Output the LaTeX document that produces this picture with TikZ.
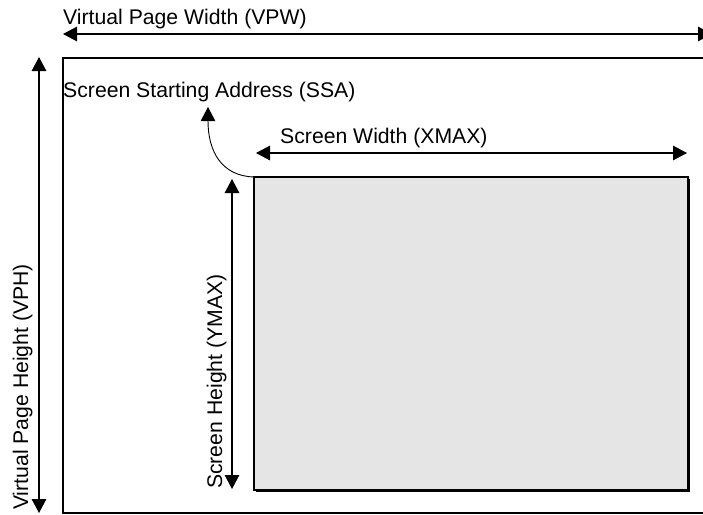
\documentclass[tikz,border=0pt]{standalone}
\usepackage{fontspec}
\setmainfont{Liberation Sans}
\usetikzlibrary{arrows.meta}
\begin{document}
\begin{tikzpicture}[x=1pt,y=-1pt,
  lbl/.style={inner sep=0pt,anchor=base west,font=\fontsize{21.2}{25}\selectfont},
  dim/.style={line width=1.4pt,{Triangle[length=14pt,width=14.5pt]}-{Triangle[length=14pt,width=14.5pt]}},
  frame/.style={line width=1.5pt},
  screen/.style={line width=1.5pt,fill={rgb,255:red,229;green,229;blue,229}}]
\clip (0,0) rectangle (703,514);
\fill[white] (0,0) rectangle (703,514);
% coordinates
\coordinate (vpwL) at (63,34);
\coordinate (vpwR) at (712,34);
\coordinate (vphT) at (39,57);
\coordinate (vphB) at (39,513);
\coordinate (xmL) at (256,153);
\coordinate (xmR) at (687,153);
\coordinate (ymT) at (232,179);
\coordinate (ymB) at (232,489);
\coordinate (scrTL) at (254,177);
\coordinate (scrBR) at (688,490);
\coordinate (ssaTip) at (208,107);
% outer virtual page (right side off picture)
\draw[frame] (710,58) -- (63,58) -- (63,513) -- (710,513);
% screen with slight shadow
\draw[line width=1.5pt] (256,491) -- (689,491) -- (689,179);
\draw[screen] (scrTL) rectangle (scrBR);
% dimension arrows
\draw[dim] (vpwL) -- (vpwR);
\draw[dim] (vphT) -- (vphB);
\draw[dim] (xmL) -- (xmR);
\draw[dim] (ymT) -- (ymB);
% SSA curved arrow
\draw[line width=0.9pt,-{Triangle[length=14pt,width=14.5pt]}] (scrTL) .. controls (222,176) and (208,152) .. (ssaTip);
% labels
\node[lbl] (tvpw) at (63,24) {Virtual Page Width (VPW)};
\node[lbl] (tssa) at (63,97) {Screen Starting Address (SSA)};
\node[lbl] (txm) at (280,143) {Screen Width (XMAX)};
\node[lbl,rotate=90] (tvph) at (28,510) {Virtual Page Height (VPH)};
\node[lbl,rotate=90] (tym) at (222,489) {Screen Height (YMAX)};
\end{tikzpicture}
\end{document}
